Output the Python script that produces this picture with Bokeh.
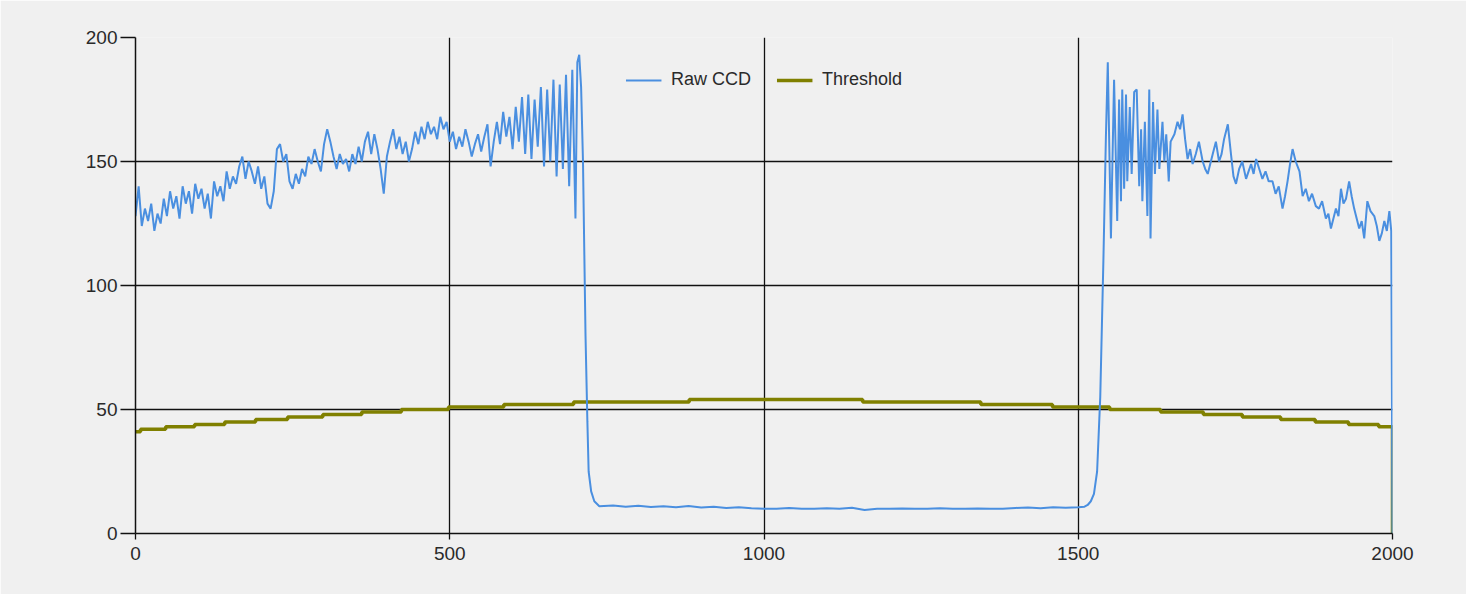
from bokeh.plotting import figure
from bokeh.models import Range1d, FixedTicker, Legend, LegendItem
from bokeh.embed import file_html
from bokeh.resources import INLINE

# ---------------- data ----------------
raw_x = [
    0, 5, 10, 15, 20, 25, 30, 35, 40, 45, 50, 55, 60, 65, 70, 75, 80, 85, 90, 95,
    100, 105, 110, 115, 120, 125, 130, 135, 140, 145, 150, 155, 160, 165, 170, 175, 180, 185, 190, 195,
    200, 205, 210, 215, 220, 225, 230, 235, 240, 245, 250, 255, 260, 265, 270, 275, 280, 285, 290, 295,
    300, 305, 310, 315, 320, 325, 330, 335, 340, 345, 350, 355, 360, 365, 370, 375, 380, 385, 390, 395,
    400, 405, 410, 415, 420, 425, 430, 435, 440, 445, 450, 455, 460, 465, 470, 475, 480, 485, 490, 495,
    500, 505, 510, 515, 520, 525, 530, 535, 540, 545, 550, 555, 560, 565, 570, 575, 580, 585, 590, 595,
    600, 605, 610, 615, 620, 625, 630, 635, 640, 645, 650, 655, 660, 665, 670, 675, 680, 685, 690, 695,
    700, 703, 706, 709, 712, 716, 719, 721, 725, 730, 738,
    760, 780, 800, 820, 840, 860, 880, 900, 920, 940, 960, 980, 1000, 1020, 1040, 1060, 1080, 1100,
    1120, 1140, 1160, 1180, 1200, 1220, 1240, 1260, 1280, 1300, 1320, 1340, 1360, 1380, 1400, 1420,
    1440, 1460, 1480, 1500, 1510, 1515, 1520, 1525, 1530, 1535, 1540, 1544,
    1547, 1552, 1557, 1562, 1565, 1568, 1570, 1573, 1576, 1578, 1582, 1585, 1589, 1593, 1597, 1600,
    1602, 1606, 1610, 1613, 1615, 1619, 1622, 1626, 1629, 1634, 1637, 1640, 1644, 1647, 1653, 1658,
    1662, 1666, 1670, 1674, 1678, 1682, 1687, 1692, 1698, 1702, 1706, 1710, 1714, 1719, 1724, 1728,
    1732, 1738, 1743, 1747, 1751, 1756, 1761, 1767, 1771, 1775, 1779, 1783, 1788, 1793, 1798, 1803,
    1809, 1814, 1819, 1825, 1829, 1833, 1837, 1841, 1846, 1852, 1857, 1862, 1867, 1872, 1878, 1883,
    1888, 1894, 1898, 1902, 1906, 1910, 1914, 1918, 1922, 1926, 1931, 1935, 1939, 1943, 1947, 1951,
    1955, 1960, 1965, 1971, 1975, 1979, 1983, 1987, 1991, 1995, 1998, 2000,
]
raw_y = [
    128, 140, 124, 131, 126, 133, 122, 129, 125, 135, 128, 138, 131, 136, 127, 140, 133, 138, 129, 141,
    135, 139, 131, 137, 127, 142, 136, 140, 134, 146, 139, 144, 141, 148, 152, 143, 150, 146, 141, 148,
    139, 144, 133, 131, 138, 155, 157, 150, 153, 142, 139, 145, 141, 147, 144, 152, 149, 155, 150, 146,
    157, 163, 158, 152, 147, 153, 149, 151, 146, 153, 149, 156, 150, 158, 162, 153, 161, 155, 147, 137,
    152, 158, 163, 155, 160, 153, 158, 150, 155, 162, 157, 164, 159, 166, 161, 164, 159, 168, 163, 166,
    158, 162, 155, 160, 156, 163, 158, 152, 157, 161, 154, 160, 165, 148, 158, 166, 157, 170, 160, 168,
    155, 172, 158, 176, 153, 177, 151, 175, 156, 180, 148, 179, 150, 183, 144, 181, 147, 185, 140, 187,
    127, 190, 193, 180, 150, 80, 45, 25, 17, 13, 11,
    11.3, 10.8, 11.2, 10.7, 11.0, 10.6, 11.1, 10.5, 10.8, 10.3, 10.6, 10.2, 10.0, 10.0, 10.3, 10.0, 10.0, 10.2,
    10.0, 10.4, 9.5, 10.0, 10.0, 10.1, 10.0, 10.0, 10.2, 10.0, 10.0, 10.1, 10.0, 10.0, 10.3, 10.5,
    10.2, 10.6, 10.4, 10.6, 10.8, 11.5, 13, 16, 25, 55, 110, 160,
    190, 119, 183, 126, 175, 134, 179, 139, 177, 142, 172, 145, 178, 179, 140, 163,
    134, 166, 128, 179, 119, 174, 145, 171, 147, 166, 150, 161, 142, 158, 161, 166,
    163, 169, 159, 151, 155, 149, 153, 158, 150, 147, 145, 149, 153, 158, 150, 153,
    159, 165, 153, 144, 141, 147, 150, 143, 146, 149, 145, 151, 147, 143, 146, 142,
    142, 137, 140, 131, 136, 142, 149, 155, 150, 146, 136, 139, 134, 137, 132, 131,
    134, 127, 129, 123, 127, 131, 128, 139, 133, 135, 142, 136, 131, 127, 123, 126,
    119, 134, 130, 128, 124, 118, 121, 126, 122, 130, 122, 0,
]

thr_x = [0, 8, 48, 94, 142, 191, 242, 298, 360, 423, 498, 586, 697, 881,
         1157, 1345, 1459, 1550, 1631, 1699, 1761, 1822, 1877, 1930, 1978, 2000]
thr_y = [41, 42, 43, 44, 45, 46, 47, 48, 49, 50, 51, 52, 53, 54,
         53, 52, 51, 50, 49, 48, 47, 46, 45, 44, 43, 0]

x_ticks = [0, 500, 1000, 1500, 2000]
y_ticks = [0, 50, 100, 150, 200]
series_names = ["Raw CCD", "Threshold"]

# ---------------- figure ----------------
BG = "#f0f0f0"
p = figure(width=1466, height=594,
           x_range=Range1d(0, 2000), y_range=Range1d(0, 200),
           output_backend="svg", toolbar_location=None,
           background_fill_color=BG, border_fill_color=BG,
           min_border_left=135, min_border_right=74,
           min_border_top=37, min_border_bottom=61)
p.outline_line_color = None

p.xaxis.ticker = FixedTicker(ticks=x_ticks)
p.yaxis.ticker = FixedTicker(ticks=y_ticks)
p.xgrid.ticker = FixedTicker(ticks=x_ticks)
p.ygrid.ticker = FixedTicker(ticks=y_ticks)

for g in (p.xgrid, p.ygrid):
    g.grid_line_color = "#111111"
    g.grid_line_width = 1.3
    g.grid_line_alpha = 1.0

for ax in (p.xaxis, p.yaxis):
    ax.axis_line_color = "#111111"
    ax.axis_line_width = 1.5
    ax.major_tick_line_color = "#111111"
    ax.major_tick_line_width = 1.3
    ax.minor_tick_line_color = None
    ax.major_tick_in = 0
    ax.major_label_text_font = "Liberation Sans"
    ax.major_label_text_font_size = "19px"
    ax.major_label_text_color = "#2a2a2a"

p.xaxis.major_tick_out = 6
p.xaxis.major_label_standoff = 7
p.yaxis.major_tick_out = 15
p.yaxis.major_label_standoff = 3

thr = p.step(thr_x, thr_y, mode="after", line_color="#808000", line_width=3.5)
raw = p.line(raw_x, raw_y, line_color="#4a8fe0", line_width=2)

legend = Legend(items=[LegendItem(label=series_names[0], renderers=[raw]),
                       LegendItem(label=series_names[1], renderers=[thr])],
                location="top_center", orientation="horizontal")
legend.background_fill_alpha = 0
legend.border_line_color = None
legend.glyph_width = 36
legend.glyph_height = 20
legend.label_standoff = 10
legend.spacing = 25
legend.padding = 0
legend.margin = 32
legend.label_text_font = "Liberation Sans"
legend.label_text_font_size = "18px"
legend.label_text_color = "#2a2a2a"
p.add_layout(legend, "center")

open("out.html", "w").write(file_html(p, INLINE))
